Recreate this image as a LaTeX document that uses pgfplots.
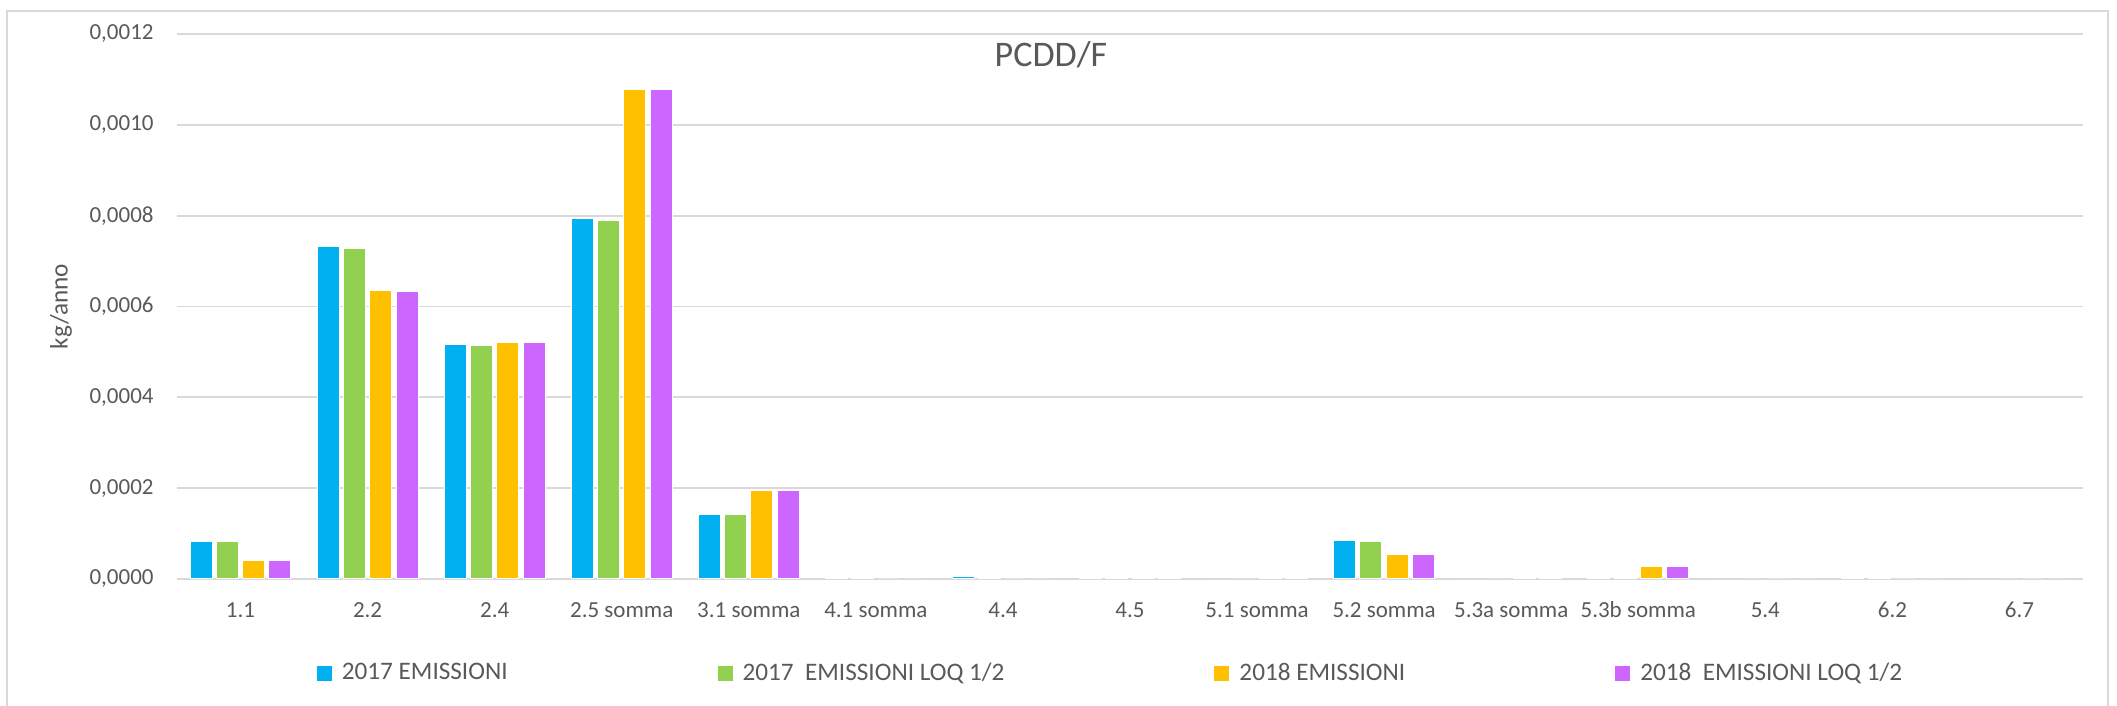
\documentclass[border=0pt]{standalone}
\usepackage{fontspec}
\setmainfont{Carlito}
\usepackage{pgfplots}
\pgfplotsset{compat=1.18}
\definecolor{txt}{HTML}{595959}
\definecolor{grd}{HTML}{D9D9D9}
\definecolor{sblue}{HTML}{00B0F0}
\definecolor{sgreen}{HTML}{92D050}
\definecolor{sorange}{HTML}{FFC000}
\definecolor{spurple}{HTML}{CC66FF}
\newcommand{\smallfont}{\fontsize{11.5}{13}\selectfont}
\newcommand{\legfont}{\fontsize{12.6}{14}\selectfont}
\begin{document}
\begin{tikzpicture}
\begin{axis}[
  at={(0pt,0pt)}, anchor=south west,
  scale only axis,
  width=953pt, height=272.5pt,
  ybar=2.15pt, bar width=11pt,
  xmin=-0.5, xmax=14.5,
  ymin=0, ymax=0.0012,
  xtick=data,
  xticklabels={1.1,2.2,2.4,2.5 somma,3.1 somma,4.1 somma,4.4,4.5,5.1 somma,5.2 somma,5.3a somma,5.3b somma,5.4,6.2,6.7},
  ytick={0,0.0002,0.0004,0.0006,0.0008,0.0010,0.0012},
  scaled y ticks=false,
  yticklabel style={/pgf/number format/fixed,/pgf/number format/fixed zerofill,
    /pgf/number format/precision=4,/pgf/number format/use comma,
    /pgf/number format/assume math mode=true,
    anchor=east,inner sep=0pt,xshift=-11.5pt,font=\smallfont,text=txt},
  xticklabel style={anchor=center,yshift=-15.5pt,font=\smallfont,text=txt},
  major tick length=0pt,
  axis line style={draw=none},
  ymajorgrids, grid style={draw=grd,line width=0.9pt},
  ylabel={kg/anno},
  ylabel style={at={(axis description cs:0,0.5)},anchor=center,yshift=58pt,font=\legfont,text=txt},
  legend columns=4,
  legend style={at={(axis description cs:0.4903,-0.1725)},anchor=center,draw=none,fill=none,
    font=\legfont,text=txt,inner sep=0pt,
    /tikz/every odd column/.append style={column sep=3pt},
    /tikz/every even column/.append style={column sep=103pt}},
  legend image code/.code={\fill[#1,draw=none] (0pt,-3.75pt) rectangle (7.5pt,3.75pt);},
  every axis plot/.append style={draw=white,line width=0.5pt},
]
\addplot[fill=sblue] coordinates {(0,0.0000826) (1,0.0007325) (2,0.0005164) (3,0.000793) (4,0.0001411) (5,0.0000008) (6,0.0000045) (7,0.0000015) (8,0) (9,0.000084) (10,0) (11,0.000001) (12,0) (13,0.000001) (14,0)};
\addplot[fill=sgreen] coordinates {(0,0.0000826) (1,0.0007266) (2,0.0005149) (3,0.00079) (4,0.000141) (5,0.0000008) (6,0.0000042) (7,0.0000015) (8,0) (9,0.0000834) (10,0) (11,0.000001) (12,0) (13,0.000001) (14,0)};
\addplot[fill=sorange] coordinates {(0,0.0000409) (1,0.0006362) (2,0.0005208) (3,0.001077) (4,0.0001947) (5,0) (6,0) (7,0.000002) (8,0.000001) (9,0.0000534) (10,0.000001) (11,0.000027) (12,0) (13,0) (14,0)};
\addplot[fill=spurple] coordinates {(0,0.0000409) (1,0.0006333) (2,0.000521) (3,0.001077) (4,0.0001947) (5,0) (6,0) (7,0.000002) (8,0.000001) (9,0.0000534) (10,0.000001) (11,0.000027) (12,0) (13,0) (14,0)};
\legend{2017 EMISSIONI,2017\ \ EMISSIONI LOQ 1/2,2018 EMISSIONI,2018\ \ EMISSIONI LOQ 1/2}
\end{axis}
% title and chart border
\node[text=txt,font=\fontsize{18}{21}\selectfont] at (437pt,262pt) {PCDD/F};
\draw[grd,line width=0.9pt] (-85pt,-63.5pt) -- (-85pt,284pt) -- (965.5pt,284pt) -- (965.5pt,-63.5pt);
\pgfresetboundingbox
\path (-88.5pt,-63.5pt) rectangle (970pt,289.5pt);
\end{tikzpicture}
\end{document}
